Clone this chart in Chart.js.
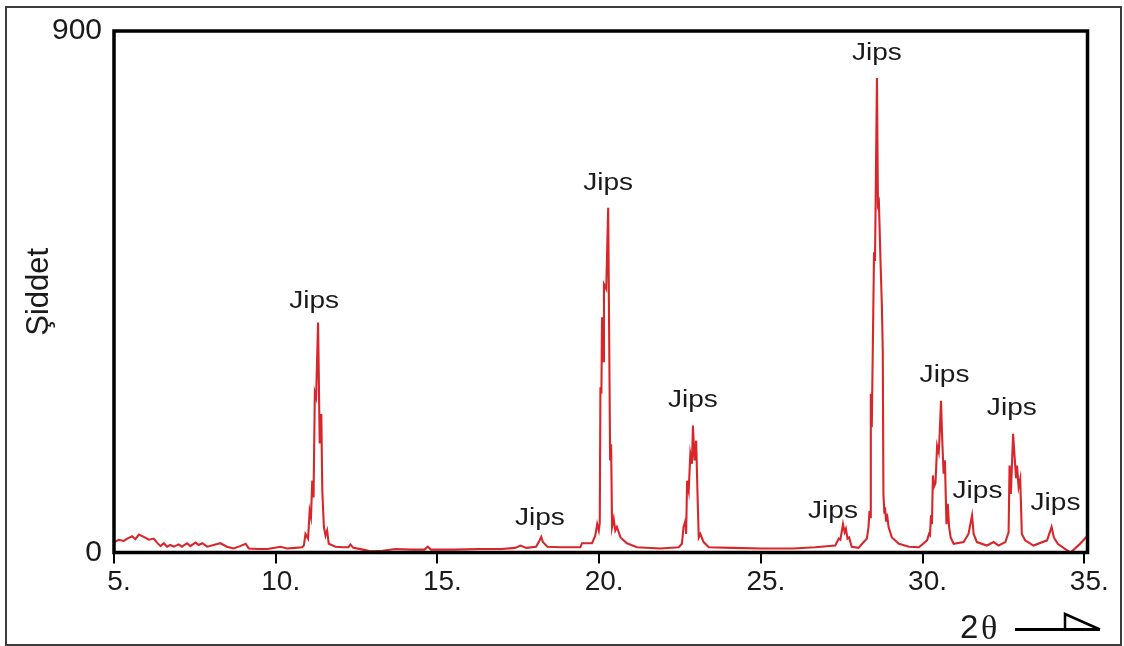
<!DOCTYPE html>
<html>
<head>
<meta charset="utf-8">
<title>Jips - XRD</title>
<script src="https://cdn.jsdelivr.net/npm/chart.js@4.4.1/dist/chart.umd.min.js"></script>
<style>
  body { margin: 0; background: #fff; }
  canvas { display: block; }
</style>
</head>
<body>
<canvas id="xrdChart" width="1124" height="646"></canvas>
<script>
// 2 theta (derece) aur siddet values - picture se padhe hue
const twoTheta = [
  5.00, 5.15, 5.30, 5.41, 5.56, 5.66, 5.77, 5.92, 6.08, 6.23, 6.33, 6.44, 6.54, 6.64, 6.74, 6.85,
  7.00, 7.10, 7.26, 7.36, 7.52, 7.62, 7.73, 7.88, 8.08, 8.29, 8.49, 8.70, 8.90, 9.07, 9.17, 9.45,
  9.74, 10.15, 10.35, 10.60, 10.82, 10.87, 10.92, 11.00, 11.05, 11.09, 11.13, 11.17, 11.21, 11.25,
  11.31, 11.36, 11.41, 11.44, 11.49, 11.54, 11.59, 11.64, 11.85, 12.10, 12.25, 12.31, 12.40, 12.70,
  12.93, 13.30, 13.70, 14.20, 14.60, 14.70, 14.80, 15.50, 16.30, 17.00, 17.40, 17.57, 17.75, 18.05,
  18.15, 18.21, 18.26, 18.40, 18.80, 19.42, 19.47, 19.78, 19.88, 19.94, 19.99, 20.02, 20.04, 20.07,
  20.09, 20.12, 20.15, 20.22, 20.28, 20.34, 20.37, 20.40, 20.45, 20.50, 20.55, 20.66, 20.86, 21.17,
  21.89, 22.46, 22.56, 22.61, 22.67, 22.69, 22.72, 22.77, 22.82, 22.87, 22.90, 22.95, 23.00, 23.05,
  23.08, 23.13, 23.23, 23.39, 24.11, 25.00, 26.00, 26.68, 27.30, 27.41, 27.46, 27.54, 27.59, 27.63,
  27.68, 27.73, 27.81, 28.02, 28.18, 28.28, 28.33, 28.36, 28.38, 28.40, 28.43, 28.50, 28.53, 28.59,
  28.62, 28.65, 28.70, 28.74, 28.77, 28.79, 28.82, 28.84, 28.87, 28.90, 28.95, 29.05, 29.27, 29.58,
  29.89, 30.14, 30.20, 30.23, 30.26, 30.29, 30.32, 30.35, 30.40, 30.45, 30.50, 30.53, 30.57, 30.61,
  30.65, 30.69, 30.74, 30.78, 30.82, 30.87, 30.96, 31.27, 31.42, 31.53, 31.58, 31.68, 31.99, 32.20,
  32.35, 32.56, 32.66, 32.69, 32.73, 32.80, 32.85, 32.89, 32.92, 32.97, 33.02, 33.07, 33.17, 33.43,
  33.85, 33.99, 34.06, 34.18, 34.49, 34.58, 34.85, 35.10
];
const siddet = [
  18, 22, 20, 24, 28, 23, 31, 27, 22, 24, 17, 11, 16, 10, 13, 10,
  14, 10, 16, 11, 17, 13, 16, 10, 13, 16, 10, 7, 11, 15, 7, 6,
  6, 10, 7, 8, 9, 12, 32, 24, 72, 61, 124, 95, 276, 268,
  397, 188, 239, 107, 44, 29, 38, 15, 10, 9, 9, 14, 8, 5,
  2, 3, 6, 5, 5, 10, 5, 5, 6, 6, 8, 12, 8, 10,
  20, 27, 18, 10, 9, 9, 16, 16, 29, 49, 38, 52, 285, 274,
  406, 330, 463, 455, 595, 159, 187, 44, 58, 38, 44, 26, 16, 9,
  7, 9, 15, 44, 55, 32, 124, 107, 170, 153, 219, 159, 193, 84,
  26, 32, 18, 9, 8, 7, 7, 9, 12, 24, 22, 49, 35, 41,
  24, 26, 10, 8, 18, 24, 44, 72, 61, 274, 216, 518, 503, 819,
  600, 605, 503, 430, 348, 101, 67, 78, 55, 67, 44, 26, 15, 10,
  9, 21, 32, 30, 64, 49, 133, 113, 120, 184, 173, 205, 262, 193,
  136, 159, 49, 84, 44, 26, 15, 18, 32, 64, 32, 18, 12, 18,
  12, 18, 35, 150, 101, 205, 162, 130, 150, 113, 127, 32, 21, 12,
  21, 44, 26, 15, 3, 0, 14, 29
];

const xTicks = [5, 10, 15, 20, 25, 30, 35];
const yTicks = [0, 900];

// "Jips" yazilari - data koordinatlarinda (2theta, siddet)
const jipsTheta = [11.19, 18.17, 20.28, 22.90, 27.23, 28.59, 30.68, 31.70, 32.76, 34.11];
const jipsLevel = [433, 58, 636, 261, 70, 860, 305, 104, 248, 84];

const points = twoTheta.map(function (t, i) {
  return { x: t, y: siddet[i] };
});

const textColor = '#1a1a1a';

// frame, Jips labels aur 2θ arrow yaha se
const framePlugin = {
  id: 'framePlugin',
  afterDraw: function (chart) {
    const ctx = chart.ctx;
    const ca = chart.chartArea;
    const xs = chart.scales.x;
    const ys = chart.scales.y;
    ctx.save();

    // andar wala mota kala frame
    ctx.strokeStyle = '#000';
    ctx.lineWidth = 3.5;
    ctx.strokeRect(ca.left, ca.top, ca.right - ca.left, ca.bottom - ca.top);

    // bahar wala frame
    ctx.strokeStyle = '#3c3c3c';
    ctx.lineWidth = 2;
    ctx.strokeRect(6, 7, 1115, 638);

    // Jips
    ctx.fillStyle = textColor;
    ctx.font = '23px "Liberation Sans", Arial, sans-serif';
    ctx.textAlign = 'center';
    ctx.textBaseline = 'alphabetic';
    for (let i = 0; i < jipsTheta.length; i++) {
      const px = xs.getPixelForValue(jipsTheta[i]);
      const py = ys.getPixelForValue(jipsLevel[i]);
      ctx.save();
      ctx.translate(px, py + 6);
      ctx.scale(1.22, 1);
      ctx.fillText('Jips', 0, 0);
      ctx.restore();
    }

    // 2θ aur arrow
    ctx.textAlign = 'left';
    ctx.font = '33px "Liberation Sans", Arial, sans-serif';
    ctx.fillText('2', 960, 638);
    ctx.font = '34px "Liberation Serif", "Times New Roman", serif';
    ctx.fillText('θ', 981, 639);

    ctx.strokeStyle = '#000';
    ctx.lineWidth = 3;
    ctx.beginPath();
    ctx.moveTo(1015, 629.5);
    ctx.lineTo(1100, 629.5);
    ctx.stroke();
    ctx.lineWidth = 2.5;
    ctx.beginPath();
    ctx.moveTo(1065, 629.5);
    ctx.lineTo(1065, 614);
    ctx.lineTo(1100, 629.5);
    ctx.stroke();

    ctx.restore();
  }
};

const ctx = document.getElementById('xrdChart');

new Chart(ctx, {
  type: 'line',
  data: {
    datasets: [{
      data: points,
      borderColor: '#d8262a',
      borderWidth: 2.1,
      pointRadius: 0,
      tension: 0,
      fill: false
    }]
  },
  options: {
    responsive: false,
    animation: false,
    devicePixelRatio: 1,
    layout: { padding: { top: 31, right: 36.5, left: 0, bottom: 0 } },
    plugins: {
      legend: { display: false },
      tooltip: { enabled: false }
    },
    scales: {
      x: {
        type: 'linear',
        min: 5,
        max: 35.1,
        afterBuildTicks: function (s) { s.ticks = xTicks.map(function (v) { return { value: v }; }); },
        afterFit: function (s) { s.height = 93.5; },
        grid: { display: true, drawOnChartArea: false, drawTicks: true, tickLength: 11, color: '#000', lineWidth: 2 },
        border: { display: false },
        ticks: {
          color: textColor,
          font: { family: '"Liberation Sans", Arial, sans-serif', size: 28 },
          padding: 2,
          labelOffset: 5,
          maxRotation: 0,
          autoSkip: false,
          callback: function (v) { return v + '.'; }
        }
      },
      y: {
        min: 0,
        max: 900,
        afterBuildTicks: function (s) { s.ticks = yTicks.map(function (v) { return { value: v }; }); },
        afterFit: function (s) { s.width = 114; },
        grid: { display: false, drawTicks: false },
        border: { display: false },
        ticks: {
          color: textColor,
          font: { family: '"Liberation Sans", Arial, sans-serif', size: 30 },
          padding: 12
        },
        title: {
          display: true,
          text: 'Şiddet',
          color: textColor,
          font: { family: '"Liberation Sans", Arial, sans-serif', size: 31 },
          padding: { top: 21, bottom: 0 }
        }
      }
    }
  },
  plugins: [framePlugin]
});
</script>
</body>
</html>
